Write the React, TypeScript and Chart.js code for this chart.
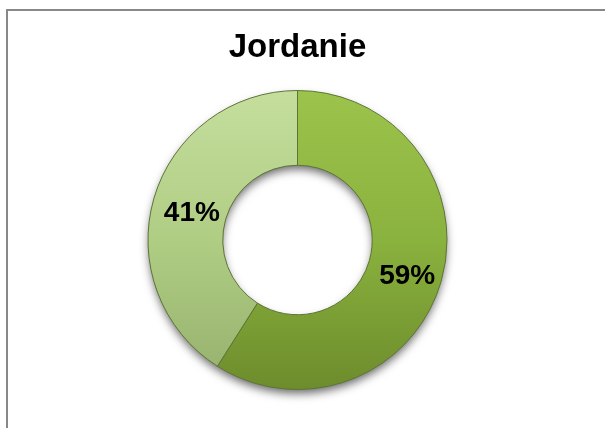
import React, { useEffect, useRef } from "react";
import { Chart, registerables } from "chart.js";

Chart.register(...registerables);

const title = "Jordanie";
const categories = ["Catégorie 1", "Catégorie 2"];
const values = [59, 41];
const valueLabels = ["59%", "41%"];

const W = 605;
const H = 428;

export default function App() {
  const ref = useRef<HTMLCanvasElement | null>(null);

  useEffect(() => {
    const canvas = ref.current;
    if (!canvas) return;

    const shadowPlugin = {
      id: "ringShadow",
      beforeDatasetsDraw(chart: any) {
        const meta = chart.getDatasetMeta(0);
        const arc = meta.data[0];
        if (!arc) return;
        const { x, y, outerRadius, innerRadius } = arc.getProps(["x", "y", "outerRadius", "innerRadius"], true);
        const ctx = chart.ctx;
        ctx.save();
        ctx.shadowColor = "rgba(0,0,0,0.6)";
        ctx.shadowBlur = 10;
        ctx.shadowOffsetY = 5;
        ctx.beginPath();
        ctx.arc(x, y, outerRadius - 1, 0, Math.PI * 2);
        ctx.arc(x, y, innerRadius + 1, Math.PI * 2, 0, true);
        ctx.closePath();
        ctx.fillStyle = "#86ab3c";
        ctx.fill("evenodd");
        ctx.restore();
      },
    };

    const titlePlugin = {
      id: "topTitle",
      afterDraw(chart: any) {
        const ctx = chart.ctx;
        const area = chart.chartArea;
        ctx.save();
        ctx.font = "bold 33px 'Liberation Sans', Arial, sans-serif";
        ctx.fillStyle = "#000";
        ctx.textAlign = "center";
        ctx.textBaseline = "alphabetic";
        ctx.fillText(title, (area.left + area.right) / 2, 57);
        ctx.restore();
      },
    };

    const labelPlugin = {
      id: "sliceLabels",
      afterDatasetsDraw(chart: any) {
        const ctx = chart.ctx;
        const meta = chart.getDatasetMeta(0);
        ctx.save();
        ctx.font = "bold 28px 'Liberation Sans', Arial, sans-serif";
        ctx.fillStyle = "#000";
        ctx.textAlign = "center";
        ctx.textBaseline = "middle";
        meta.data.forEach((arc: any, i: number) => {
          const p = arc.tooltipPosition();
          ctx.fillText(valueLabels[i], p.x + 2, p.y + 5);
        });
        ctx.restore();
      },
    };

    const chart = new Chart(canvas, {
      type: "doughnut",
      data: {
        labels: categories,
        datasets: [
          {
            data: values,
            backgroundColor: (c: any) => {
              const ch = c.chart;
              const area = ch.chartArea;
              if (!area) return "#8db440";
              const g = ch.ctx.createLinearGradient(0, area.top, 0, area.bottom);
              if (c.dataIndex === 0) {
                g.addColorStop(0, "#9cc34b");
                g.addColorStop(0.5, "#8ab23e");
                g.addColorStop(1, "#6d8c2c");
              } else {
                g.addColorStop(0, "#c5de9d");
                g.addColorStop(0.5, "#b0cd84");
                g.addColorStop(1, "#94b06d");
              }
              return g;
            },
            borderColor: "#5d7436",
            borderWidth: 1,
          },
        ],
      },
      options: {
        responsive: false,
        animation: false,
        cutout: "50%",
        layout: { padding: { left: 147, right: 157, top: 90, bottom: 38 } },
        plugins: {
          legend: { display: false },
          tooltip: { enabled: false },
          title: { display: false },
        },
      },
      plugins: [shadowPlugin, titlePlugin, labelPlugin],
    });

    return () => chart.destroy();
  }, []);

  return (
    <div style={{ position: "absolute", left: 0, top: 0, width: W, height: H, background: "#fff", overflow: "hidden" }}>
      <div
        style={{
          position: "absolute",
          left: 6,
          top: 9,
          width: W + 20,
          height: H + 20,
          borderLeft: "2px solid #888888",
          borderTop: "2px solid #888888",
          boxSizing: "border-box",
        }}
      />
      <canvas ref={ref} width={W} height={H} style={{ position: "absolute", left: 0, top: 0 }} />
    </div>
  );
}
